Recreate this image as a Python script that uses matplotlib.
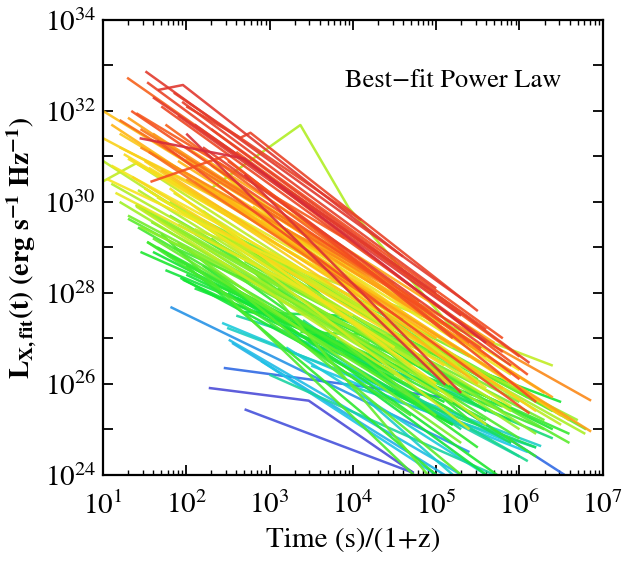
# Best-fit power-law X-ray light curves (log-log), one line per burst
import numpy as np
import matplotlib
matplotlib.use('Agg')
import matplotlib.pyplot as plt
from matplotlib.colors import LinearSegmentedColormap

plt.rcParams['font.family'] = ['STIXGeneral', 'DejaVu Serif']
plt.rcParams['mathtext.fontset'] = 'stix'

# single power-law segments: log10 time (s/(1+z)), log10 L (erg/s/Hz), colour value 0..1
log_t_start = [1.51, 1.29, 1.53, 1.34, 1.20, 1.60, 1.70, 1.45, 1.90, 2.00, 1.65, 2.20, 2.50, 1.40, 1.85, 2.40, 3.00, 1.75, 2.70, 1.55, 3.50, 2.10, 1.95, 2.30, 2.60,
               1.00, 1.10, 1.20, 1.30, 1.00, 1.45, 2.00, 1.50, 1.25, 1.70, 1.90, 1.10, 1.35, 2.20, 1.60, 2.40, 1.80, 2.60, 2.90, 1.15, 2.00, 2.30, 1.50, 3.20, 1.05, 2.40, 2.00, 1.40,
               1.55, 1.75, 2.10, 1.30, 2.50, 1.65, 2.80, 1.20, 3.40, 2.00, 1.85, 3.00,
               1.00, 1.20, 1.40, 1.50, 1.70, 1.30, 2.10, 1.80, 2.50, 1.10, 1.60, 2.20, 3.00, 1.90, 2.80, 3.50, 1.45, 1.42, 1.39,
               1.30, 1.42, 1.53, 1.77, 1.96, 1.58, 1.70, 2.00, 2.20, 2.40, 1.90, 2.60, 2.30, 2.10, 2.70, 2.90, 1.60, 2.50, 3.10, 2.00, 3.30, 2.35, 1.85, 2.80, 3.60, 3.00, 2.20, 3.80, 2.45, 4.00, 2.60, 1.75, 1.95, 1.53, 1.93,
               1.50, 1.80, 2.10, 1.65, 2.40, 2.70, 1.45, 2.90, 3.20, 2.00, 3.60,
               2.43, 2.49, 2.51, 2.55, 2.60, 3.20, 3.00, 3.50, 2.90, 3.90, 4.20, 3.30, 3.70, 4.10, 3.00, 4.50, 3.40,
               1.81, 2.70]
log_L_start = [32.87, 32.73, 32.63, 32.00, 31.80, 32.30, 32.10, 31.60, 31.90, 31.50, 31.35, 31.20, 30.90, 31.95, 32.40, 31.30, 30.50, 31.70, 30.60, 31.10, 29.50, 31.70, 32.20, 31.60, 31.10,
               32.00, 31.70, 31.50, 31.85, 31.40, 31.20, 30.50, 30.90, 31.05, 30.70, 30.90, 30.80, 30.55, 30.40, 31.50, 30.20, 30.30, 29.90, 29.60, 30.20, 31.20, 30.80, 30.30, 29.40, 30.50, 30.70, 29.80, 29.90,
               30.75, 30.55, 30.45, 30.95, 30.10, 30.10, 29.90, 31.20, 29.20, 30.95, 30.20, 29.60,
               30.90, 30.00, 29.95, 30.30, 29.60, 29.70, 29.40, 30.00, 29.20, 30.40, 29.20, 29.80, 28.90, 29.10, 28.80, 28.20, 29.45, 30.26, 29.93,
               29.63, 29.44, 29.12, 28.84, 28.29, 29.56, 29.30, 29.00, 28.60, 28.90, 29.50, 28.40, 29.20, 28.10, 28.70, 28.30, 28.90, 28.00, 28.10, 28.60, 27.80, 29.40, 29.00, 28.50, 27.60, 27.60, 29.60, 27.20, 28.20, 26.80, 27.90, 28.50, 29.78, 29.12, 28.33,
               29.80, 29.70, 29.30, 29.00, 29.30, 29.00, 28.90, 28.90, 28.60, 28.40, 28.30,
               27.34, 27.23, 26.97, 26.90, 27.50, 26.80, 27.30, 26.40, 26.50, 26.00, 25.60, 27.00, 26.90, 26.40, 26.20, 25.80, 27.40,
               27.69, 25.44]
log_t_end = [5.40, 4.60, 6.12, 5.54, 4.30, 5.00, 5.80, 4.80, 5.30, 5.11, 6.12, 5.90, 6.00, 3.90, 4.10, 5.60, 6.10, 5.40, 5.30, 4.60, 6.20, 4.90, 5.00, 5.80, 6.00,
             4.20, 5.00, 4.60, 5.60, 3.90, 6.86, 6.86, 5.30, 4.80, 5.80, 6.30, 4.30, 5.10, 6.50, 4.90, 5.50, 5.00, 6.20, 6.60, 4.00, 5.70, 4.70, 4.50, 6.40, 3.60, 5.16, 5.40, 4.60,
             5.00, 4.40, 5.60, 4.10, 5.90, 4.80, 5.20, 3.50, 6.00, 4.50, 5.90, 5.60,
             4.80, 5.20, 4.40, 5.90, 5.00, 4.20, 6.40, 6.79, 6.00, 3.80, 4.80, 5.60, 6.50, 5.30, 6.20, 6.70, 4.00, 4.90, 5.20,
             4.60, 5.20, 4.80, 5.60, 5.10, 5.00, 4.73, 5.30, 5.73, 6.30, 6.00, 5.50, 5.00, 5.80, 6.60, 6.20, 4.50, 5.20, 6.00, 5.00, 6.40, 4.90, 4.30, 4.90, 6.50, 5.90, 5.40, 6.60, 5.60, 6.30, 5.90, 4.00, 5.50, 4.70, 5.20,
             4.30, 5.00, 4.70, 4.20, 6.10, 5.80, 3.80, 6.40, 5.40, 4.40, 6.80,
             5.90, 6.26, 5.30, 5.10, 4.80, 5.60, 6.00, 6.10, 5.00, 6.20, 5.20, 5.70, 6.40, 6.10, 5.70, 6.20, 5.30,
             5.40, 4.73]
log_L_end = [27.75, 28.50, 26.46, 26.78, 28.30, 28.00, 26.70, 27.80, 27.50, 25.98, 25.35, 26.40, 26.10, 29.20, 29.60, 27.20, 26.20, 26.90, 25.80, 27.40, 25.60, 28.10, 28.10, 27.00, 26.60,
             28.40, 27.00, 27.80, 26.60, 28.60, 25.63, 24.95, 26.30, 27.20, 25.90, 25.80, 27.60, 26.40, 25.30, 27.60, 26.00, 26.00, 25.40, 25.20, 27.50, 26.90, 27.60, 26.80, 25.70, 28.30, 25.98, 25.00, 26.10,
             27.00, 27.80, 26.40, 28.00, 26.20, 26.90, 26.80, 29.10, 26.30, 28.20, 25.50, 25.90,
             26.40, 25.60, 26.80, 25.40, 25.80, 26.90, 26.40, 24.90, 25.00, 27.60, 25.60, 25.10, 25.10, 24.70, 24.90, 25.20, 27.20, 26.30, 25.70,
             26.40, 25.40, 25.70, 25.20, 25.60, 26.00, 24.00, 24.00, 24.00, 25.20, 25.60, 24.60, 25.30, 25.50, 24.70, 24.40, 26.20, 25.10, 24.80, 24.00, 25.00, 26.70, 27.00, 24.00, 25.60, 24.70, 26.60, 24.90, 24.00, 25.00, 25.20, 26.80, 26.10, 25.30, 25.10,
             26.90, 26.30, 26.40, 26.50, 25.70, 25.40, 27.00, 25.40, 25.20, 26.30, 25.00,
             24.70, 24.63, 24.00, 24.00, 26.20, 24.00, 24.40, 24.50, 24.00, 24.60, 24.00, 25.50, 24.80, 24.30, 24.00, 24.60, 25.00,
             24.50, 24.04]
colour_val = [0.95, 0.88, 0.93, 0.90, 0.87, 0.95, 0.92, 0.86, 0.96, 0.98, 0.91, 0.94, 0.90, 0.89, 0.93, 0.92, 0.90, 0.88, 0.97, 0.87, 0.91, 0.95, 0.94, 0.91, 0.89,
              0.78, 0.80, 0.76, 0.82, 0.74, 0.84, 0.82, 0.75, 0.72, 0.78, 0.80, 0.70, 0.73, 0.76, 0.83, 0.79, 0.71, 0.74, 0.77, 0.68, 0.81, 0.72, 0.69, 0.82, 0.70, 0.76, 0.66, 0.64,
              0.70, 0.68, 0.72, 0.71, 0.69, 0.67, 0.73, 0.74, 0.70, 0.75, 0.66, 0.68,
              0.63, 0.60, 0.58, 0.62, 0.57, 0.56, 0.64, 0.61, 0.59, 0.62, 0.55, 0.65, 0.63, 0.57, 0.58, 0.60, 0.58, 0.62, 0.60,
              0.54, 0.52, 0.50, 0.51, 0.48, 0.56, 0.53, 0.54, 0.49, 0.56, 0.57, 0.50, 0.55, 0.47, 0.54, 0.51, 0.48, 0.46, 0.53, 0.50, 0.49, 0.58, 0.52, 0.55, 0.48, 0.44, 0.57, 0.51, 0.47, 0.52, 0.45, 0.47, 0.55, 0.52, 0.48,
              0.56, 0.55, 0.52, 0.50, 0.55, 0.53, 0.49, 0.54, 0.51, 0.48, 0.55,
              0.33, 0.35, 0.30, 0.28, 0.38, 0.33, 0.37, 0.32, 0.31, 0.35, 0.34, 0.39, 0.42, 0.40, 0.38, 0.44, 0.41,
              0.22, 0.07]

# broken power laws
broken_log_t = [[2.45, 5.10, 6.54], [2.27, 3.47, 4.73], [2.30, 3.37, 3.95, 5.30], [1.00, 1.40, 4.50],
                [1.57, 2.45, 5.20], [1.66, 1.96, 4.60], [2.00, 2.65, 2.77, 5.50], [1.44, 2.70, 5.60],
                [2.69, 3.86, 5.60], [3.37, 4.58, 5.80]]
broken_log_L = [[26.35, 25.70, 24.00], [25.91, 25.63, 24.04], [30.30, 31.69, 29.87, 27.00], [30.45, 30.85, 27.20],
                [30.44, 31.00, 27.00], [32.46, 32.57, 28.80], [32.10, 31.41, 31.52, 27.60], [31.40, 30.95, 26.90],
                [27.58, 27.50, 25.40], [27.14, 27.05, 25.90]]
broken_colour = [0.14, 0.05, 0.62, 0.64, 0.90, 0.96, 0.93, 0.99, 0.46, 0.50]

cmap = LinearSegmentedColormap.from_list('burst', [
    (0.00, '#5a3cd2'), (0.15, '#2d6ee6'), (0.32, '#1ec8e6'), (0.48, '#14e632'),
    (0.60, '#a0f028'), (0.70, '#f5e61e'), (0.80, '#ffb414'), (0.90, '#f5501e'), (1.00, '#d2283c')])

lines = []
for i in range(len(log_t_start)):
    lines.append(([log_t_start[i], log_t_end[i]], [log_L_start[i], log_L_end[i]], colour_val[i]))
for i in range(len(broken_log_t)):
    lines.append((broken_log_t[i], broken_log_L[i], broken_colour[i]))
lines.sort(key=lambda l: l[2])

fig = plt.figure(figsize=(6.24, 5.70), dpi=100)
ax = fig.add_axes([0.165, 0.167, 0.801, 0.798])

for lt, lL, c in lines:
    ax.plot(10 ** np.array(lt), 10 ** np.array(lL), color=cmap(c), lw=1.8, alpha=0.9,
            solid_capstyle='butt')

ax.set_xscale('log')
ax.set_yscale('log')
ax.set_xlim(1e1, 1e7)
ax.set_ylim(1e24, 1e34)

ax.xaxis.set_major_locator(matplotlib.ticker.LogLocator(base=10, numticks=20))
ax.xaxis.set_minor_locator(matplotlib.ticker.LogLocator(base=10, subs=np.arange(2, 10), numticks=20))
yt = [10.0 ** k for k in range(24, 35)]
ax.set_yticks(yt)
ax.set_yticklabels([r'$10^{%d}$' % k if k % 2 == 0 else '' for k in range(24, 35)])
ax.yaxis.set_minor_locator(matplotlib.ticker.NullLocator())

ax.tick_params(which='both', direction='in', top=True, right=True, labelsize=21)
ax.tick_params(which='major', length=7, width=1.3)
ax.tick_params(which='minor', length=3.5, width=1.0)
ax.tick_params(axis='x', which='major', pad=12)
ax.tick_params(axis='y', which='major', pad=5)
for s in ax.spines.values():
    s.set_linewidth(1.6)

ax.text(0.70, 0.865, 'Best\u2212fit Power Law', transform=ax.transAxes, fontsize=19,
        ha='center', va='center')
ax.set_xlabel('Time (s)/(1+z)', fontsize=21, labelpad=6)
ax.set_ylabel(r'$\mathbf{L_{X,fit}(t)\ (erg\ s^{-1}\ Hz^{-1})}$', fontsize=20, labelpad=4)

fig.savefig('out.png', dpi=100)
